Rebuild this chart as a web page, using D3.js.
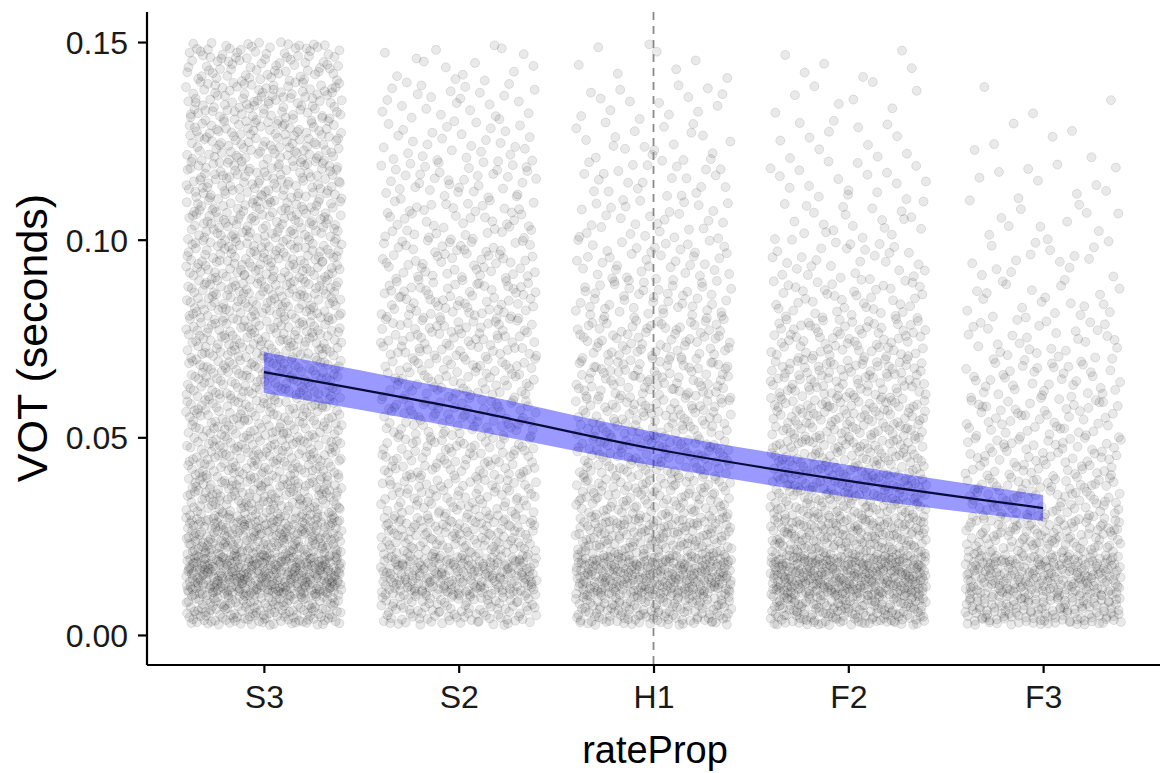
<!DOCTYPE html>
<html><head><meta charset="utf-8">
<script src="https://cdn.jsdelivr.net/npm/d3@7"></script>
<style>body{margin:0;background:#fff}svg{display:block}</style>
</head><body>
<svg id="chart" width="1166" height="773"></svg>
<script>
// ---- data ----
const categories = ["S3", "S2", "H1", "F2", "F3"];
const yTicks = [0.00, 0.05, 0.10, 0.15];
// VOT histogram bin edges (seconds)
const binEdges = [0.0025, 0.01, 0.02, 0.03, 0.04, 0.05, 0.06, 0.07, 0.08, 0.09, 0.10, 0.11, 0.12, 0.13, 0.14, 0.15];
// estimated number of tokens per bin, for each rateProp level
const countsS3 = [150, 340, 230, 160, 135, 125, 125, 125, 125, 120, 115, 110, 105, 100, 85];
const countsS2 = [100, 220, 130, 90, 85, 80, 75, 75, 70, 58, 47, 40, 30, 25, 15];
const countsH1 = [140, 280, 160, 110, 100, 90, 85, 68, 52, 40, 30, 25, 20, 15, 8];
const countsF2 = [170, 320, 190, 140, 120, 110, 95, 72, 45, 30, 22, 18, 12, 9, 6];
const countsF3 = [140, 220, 125, 85, 65, 52, 42, 30, 22, 16, 12, 10, 6, 3, 0];
// fitted model and confidence band
const fitValue = [0.0665, 0.0574, 0.0471, 0.0390, 0.0321];
const fitLower = [0.0612, 0.0524, 0.0428, 0.0349, 0.0288];
const fitUpper = [0.0716, 0.0620, 0.0514, 0.0430, 0.0354];
const refLevel = "H1";

const countsByCat = {S3: countsS3, S2: countsS2, H1: countsH1, F2: countsF2, F3: countsF3};

const svg = d3.select("#chart");
const L = 147, R = 1160, T = 12, B = 665;
const font = "'Liberation Sans', Arial, Helvetica, sans-serif";

const x = d3.scalePoint().domain(categories).range([L, R]).padding(0.6);
const y = d3.scaleLinear().domain([-0.0076, 0.1576]).range([B, T]);
const jitterW = 0.4 * x.step();

// deterministic low-discrepancy placement inside each bin (jitter)
function halton(i, b) { let f = 1, r = 0; while (i > 0) { f /= b; r += f * (i % b); i = Math.floor(i / b); } return r; }
const points = [];
categories.forEach((c, ci) => {
  let idx = 1 + ci * 7919;
  countsByCat[c].forEach((n, k) => {
    const lo = binEdges[k], hi = binEdges[k + 1];
    for (let j = 0; j < n; j++, idx++) {
      points.push({cat: c, jx: halton(idx, 2) * 2 - 1, v: lo + halton(idx, 3) * (hi - lo)});
    }
  });
});

const gPts = svg.append("g");
gPts.selectAll("circle").data(points).join("circle")
  .attr("cx", d => x(d.cat) + d.jx * jitterW)
  .attr("cy", d => y(d.v))
  .attr("r", 4.5)
  .attr("fill", "#000").attr("fill-opacity", 0.085)
  .attr("stroke", "#000").attr("stroke-opacity", 0.1).attr("stroke-width", 1);

// reference dashed line
svg.append("line")
  .attr("x1", x(refLevel)).attr("x2", x(refLevel))
  .attr("y1", T).attr("y2", B)
  .attr("stroke", "#8a8a8a").attr("stroke-width", 1.8).attr("stroke-dasharray", "8,6");

// confidence ribbon and fit line
const fit = categories.map((c, i) => ({c, v: fitValue[i], lo: fitLower[i], hi: fitUpper[i]}));
svg.append("path").datum(fit)
  .attr("d", d3.area().x(d => x(d.c)).y0(d => y(d.lo)).y1(d => y(d.hi)).curve(d3.curveMonotoneX))
  .attr("fill", "#0000ff").attr("fill-opacity", 0.4);
svg.append("path").datum(fit)
  .attr("d", d3.line().x(d => x(d.c)).y(d => y(d.v)).curve(d3.curveMonotoneX))
  .attr("fill", "none").attr("stroke", "#0b0b3a").attr("stroke-width", 2.2);

// axes
const yAxis = svg.append("g").attr("transform", `translate(${L},0)`)
  .call(d3.axisLeft(y).tickValues(yTicks).tickFormat(d3.format(".2f")).tickSize(9).tickSizeOuter(0));
const xAxis = svg.append("g").attr("transform", `translate(0,${B})`)
  .call(d3.axisBottom(x).tickSize(8).tickSizeOuter(0));
[yAxis, xAxis].forEach(a => {
  a.select(".domain").attr("stroke", "#000").attr("stroke-width", 2.2);
  a.selectAll(".tick line").attr("stroke", "#000").attr("stroke-width", 2.2);
  a.selectAll(".tick text").attr("fill", "#1a1a1a").style("font-family", font).style("font-size", "32px");
});
// extend domains to plot panel corners
yAxis.select(".domain").attr("d", `M0,${T}V${B}`);
xAxis.select(".domain").attr("d", `M${L},0H${R}`);
yAxis.selectAll(".tick text").attr("x", -19).attr("dy", "0.36em");
xAxis.selectAll(".tick text").attr("y", 43).attr("dy", "0");

svg.append("text").attr("x", 655).attr("y", 763).attr("text-anchor", "middle")
  .style("font-family", font).style("font-size", "38px").attr("fill", "#000").text("rateProp");
svg.append("text").attr("transform", "translate(47,338) rotate(-90)").attr("text-anchor", "middle")
  .style("font-family", font).style("font-size", "43px").attr("fill", "#000").text("VOT (seconds)");
</script>
</body></html>
